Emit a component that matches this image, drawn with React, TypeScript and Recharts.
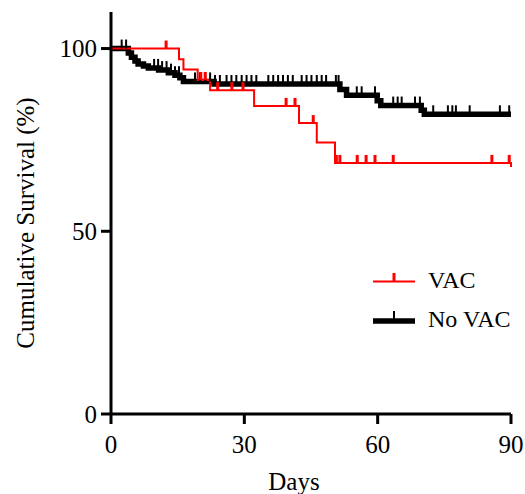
import { ComposedChart, Line, Scatter, XAxis, YAxis } from 'recharts';

// Kaplan-Meier steps (day where the step starts, survival %)
const vacStepDays = [0, 15.3, 16.3, 19.5, 22.3, 32.2, 42.3, 46.3, 50.4, 90];
const vacStepSurv = [100, 97.1, 94.3, 91.4, 88.6, 84.3, 79.6, 74.3, 68.7, 67.6];
const vacCensorDays = [12.4, 20.2, 21.2, 24, 27.2, 29.7, 39.4, 41.4, 45.5, 50.7, 51.5, 55.4, 57.4, 59.4, 63.5, 85.7, 89.6];

const noVacStepDays = [0, 3.9, 4.6, 5.4, 6.1, 7.3, 8.4, 10.7, 12.9, 14.4, 15.5, 16.3, 23.2, 51.5, 53, 59.9, 60.7, 69.8, 70.5, 90];
const noVacStepSurv = [100, 98.8, 97.6, 96.6, 95.8, 95.2, 94.7, 94.1, 93.4, 92.7, 92.0, 91.0, 90.3, 88.8, 87.2, 85.7, 84.4, 83.1, 82.0, 82.0];
const noVacCensorDays = [
  2.4, 3.4, 9.7, 10.6, 11.5, 12.5, 13.5, 14.4, 15.3, 18.9, 20, 21.2, 22.3, 23.4, 24.5, 26, 27.1, 28.2,
  29.4, 30.5, 31.6, 32.7, 35.4, 36.5, 37.6, 38.7, 39.8, 40.9, 42.9, 44, 45.1, 46.3, 47.4, 48.4, 50.6,
  51.2, 55.3, 56.4, 59.4, 63.5, 64.5, 65.4, 68.4, 69.5, 72.5, 75.8, 76.8, 77.6, 80.7, 87.5, 89.6,
];

const xTicks = [0, 30, 60, 90];
const yTicks = [0, 50, 100];

const font = '"Liberation Serif", "Times New Roman", serif';

const toSteps = (days: number[], surv: number[]) => days.map((d, i) => ({ day: d, surv: surv[i] }));
const survAt = (days: number[], surv: number[], d: number) => {
  let v = surv[0];
  days.forEach((x, i) => { if (x <= d) v = surv[i]; });
  return v;
};
const toCensors = (cd: number[], days: number[], surv: number[]) =>
  cd.map((d) => ({ day: d, surv: survAt(days, surv, d) }));

const vacData = toSteps(vacStepDays, vacStepSurv);
const noVacData = toSteps(noVacStepDays, noVacStepSurv);
const vacCensors = toCensors(vacCensorDays, vacStepDays, vacStepSurv);
const noVacCensors = toCensors(noVacCensorDays, noVacStepDays, noVacStepSurv);

const redTick = (p: any) => <rect x={p.cx - 1.5} y={p.cy - 8} width={3} height={8} fill="#ff0000" />;
const blackTick = (p: any) => <rect x={p.cx - 1} y={p.cy - 9} width={2} height={9} fill="#000" />;

export default function App() {
  return (
    <div style={{ position: 'absolute', left: 0, top: 0, width: 525, height: 494, background: '#fff' }}>
      <ComposedChart width={525} height={494} margin={{ top: 12, right: 14, left: 0, bottom: 0 }}>
        <XAxis
          type="number"
          dataKey="day"
          domain={[0, 90]}
          ticks={xTicks}
          allowDuplicatedCategory={false}
          height={80}
          axisLine={{ stroke: '#000', strokeWidth: 3 }}
          tickLine={{ stroke: '#000', strokeWidth: 3 }}
          tickSize={10}
          tickMargin={11}
          tick={{ fill: '#000', fontSize: 25, fontFamily: font }}
          label={{
            content: () => (
              <text x={294} y={490} textAnchor="middle" fill="#000" fontSize={25} fontFamily={font}>Days</text>
            ),
          }}
        />
        <YAxis
          type="number"
          dataKey="surv"
          domain={[0, 110]}
          ticks={yTicks}
          width={111}
          axisLine={{ stroke: '#000', strokeWidth: 3 }}
          tickLine={{ stroke: '#000', strokeWidth: 3 }}
          tickSize={10}
          tickMargin={4}
          tick={{ fill: '#000', fontSize: 25, fontFamily: font }}
          label={{
            content: () => (
              <text
                x={0}
                y={0}
                transform="translate(34, 223) rotate(-90)"
                textAnchor="middle"
                fill="#000"
                fontSize={25}
                fontFamily={font}
              >
                Cumulative Survival (%)
              </text>
            ),
          }}
        />
        <Line data={noVacData} dataKey="surv" type="stepAfter" stroke="#000" strokeWidth={5.5} dot={false} isAnimationActive={false} />
        <Scatter data={noVacCensors} dataKey="surv" shape={blackTick} isAnimationActive={false} />
        <Line data={vacData} dataKey="surv" type="stepAfter" stroke="#ff0000" strokeWidth={2} dot={false} isAnimationActive={false} />
        <Scatter data={vacCensors} dataKey="surv" shape={redTick} isAnimationActive={false} />
      </ComposedChart>
      <svg width={525} height={494} style={{ position: 'absolute', left: 0, top: 0, pointerEvents: 'none' }}>
        <line x1={373} x2={415} y1={281.5} y2={281.5} stroke="#ff0000" strokeWidth={2} />
        <rect x={392.5} y={273} width={3} height={8} fill="#ff0000" />
        <text x={428} y={288} fill="#000" fontSize={24} fontFamily={font}>VAC</text>
        <line x1={373} x2={415} y1={321} y2={321} stroke="#000" strokeWidth={5.5} />
        <rect x={393} y={311} width={2} height={8} fill="#000" />
        <text x={428} y={327} fill="#000" fontSize={24} fontFamily={font}>No VAC</text>
      </svg>
    </div>
  );
}
